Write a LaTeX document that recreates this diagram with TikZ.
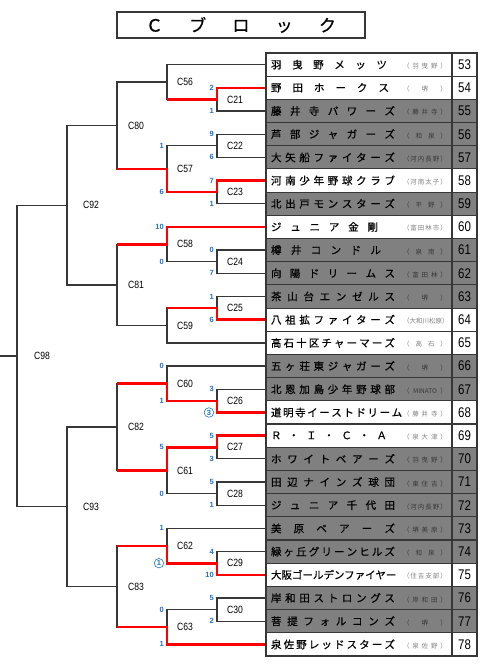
\documentclass[tikz,border=0pt]{standalone}
\usepackage{fontspec}
\setmainfont{Liberation Sans}
\newfontfamily\jpfont{Noto Sans CJK JP}[FakeBold=0.6]
\newfontfamily\ctfont{Noto Sans CJK JP}
\newfontfamily\numfont{Liberation Sans}[FakeStretch=0.82]
\usetikzlibrary{positioning}
\definecolor{cellgray}{RGB}{128,128,128}
\definecolor{linegray}{RGB}{55,55,55}
\definecolor{scoreblue}{RGB}{30,115,200}
\definecolor{winred}{RGB}{255,0,0}
\colorlet{citytext}{black!50}
\newcommand\teamrow[3][124pt]{\makebox[176pt]{\makebox[#1][s]{\jpfont\fontsize{10.5}{12}\selectfont #2}\hfill\makebox[44pt][s]{\ctfont\fontsize{6.5}{7}\selectfont\color{citytext}#3}}}

\begin{document}
\begin{tikzpicture}[x=1pt, y=-1pt,
    bline/.style={linegray, line width=1.3pt},
    win/.style={winred, line width=2.6pt},
    cell/.style={draw=linegray, line width=1.1pt, minimum width=186pt, minimum height=23.19pt, inner sep=0pt},
    wcell/.style={cell, fill=white, execute at begin node={\colorlet{citytext}{black!50}}},
    gcell/.style={cell, fill=cellgray, execute at begin node={\colorlet{citytext}{black!78}}},
    ncell/.style={draw=linegray, line width=1.1pt, minimum width=25pt, minimum height=23.19pt, inner sep=0pt, font=\numfont\fontsize{14}{14}\selectfont},
    mlabel/.style={font=\numfont\fontsize{10.5}{11}\selectfont, inner sep=0pt},
    score/.style={anchor=east, xshift=-3pt, text=scoreblue, font=\bfseries\fontsize{7.5}{8}\selectfont, inner sep=0pt},
    lot/.style={score, circle, draw=scoreblue, line width=0.6pt, inner sep=1pt}
]
\useasboundingbox (0,0) rectangle (489,670);

% ============ TITLE ============
\node[draw=linegray, line width=1.2pt, minimum width=248pt, minimum height=26pt, inner sep=0pt] (title) at (241, 25)
  {\makebox[190pt][s]{\jpfont\fontsize{17}{18}\selectfont Ｃ ブ ロ ッ ク}};

% ============ TEAM TABLE ============
\node[wcell] (t53) at (359, 64.6)  {\teamrow[116pt]{羽 曳 野 メ ッ ツ}{（ 羽 曳 野 ）}};
\node[wcell] (t54) at (359, 87.8)  {\teamrow[118pt]{野 田 ホ ー ク ス}{（ 堺 ）}};
\node[gcell] (t55) at (359, 111.0) {\teamrow{藤 井 寺 パ ワ ー ズ}{（ 藤 井 寺 ）}};
\node[gcell] (t56) at (359, 134.2) {\teamrow{芦 部 ジ ャ ガ ー ズ}{（ 和 泉 ）}};
\node[gcell] (t57) at (359, 157.4) {\teamrow{大 矢 船 フ ァ イ タ ー ズ}{（ 河 内 長 野 ）}};
\node[wcell] (t58) at (359, 180.5) {\teamrow{河 南 少 年 野 球 ク ラ ブ}{（ 河 南 太 子 ）}};
\node[gcell] (t59) at (359, 203.7) {\teamrow{北 出 戸 モ ン ス タ ー ズ}{（ 平 野 ）}};
\node[wcell] (t60) at (359, 226.9) {\teamrow[107pt]{ジ ュ ニ ア 金 剛}{（ 富 田 林 市 ）}};
\node[gcell] (t61) at (359, 250.1) {\teamrow[110pt]{樽 井 コ ン ド ル}{（ 泉 南 ）}};
\node[gcell] (t62) at (359, 273.3) {\teamrow{向 陽 ド リ ー ム ス}{（ 富 田 林 ）}};
\node[gcell] (t63) at (359, 296.5) {\teamrow{茶 山 台 エ ン ゼ ル ス}{（ 堺 ）}};
\node[wcell] (t64) at (359, 319.7) {\teamrow{八 祖 拡 フ ァ イ タ ー ズ}{（大和川松原）}};
\node[wcell] (t65) at (359, 342.9) {\teamrow{高 石 十 区 チ ャ ー マ ー ズ}{（ 高 石 ）}};
\node[gcell] (t66) at (359, 366.1) {\teamrow{五 ヶ 荘 東 ジ ャ ガ ー ズ}{（ 堺 ）}};
\node[gcell] (t67) at (359, 389.3) {\teamrow{北 恩 加 島 少 年 野 球 部}{（ MINATO ）}};
\node[wcell] (t68) at (359, 412.5) {\teamrow{道 明 寺 イ ー ス ト ド リ ー ム}{（ 藤 井 寺 ）}};
\node[wcell] (t69) at (359, 435.6) {\teamrow[116pt]{Ｒ ・ Ｉ ・ Ｃ ・ Ａ}{（ 泉 大 津 ）}};
\node[gcell] (t70) at (359, 458.8) {\teamrow{ホ ワ イ ト ベ ア ー ズ}{（ 羽 曳 野 ）}};
\node[gcell] (t71) at (359, 482.0) {\teamrow{田 辺 ナ イ ン ズ 球 団}{（ 東 住 吉 ）}};
\node[gcell] (t72) at (359, 505.2) {\teamrow{ジ ュ ニ ア 千 代 田}{（ 河 内 長 野 ）}};
\node[gcell] (t73) at (359, 528.4) {\teamrow{美 原 ベ ア ー ズ}{（ 堺 美 原 ）}};
\node[gcell] (t74) at (359, 551.6) {\teamrow{緑 ヶ 丘 グ リ ー ン ヒ ル ズ}{（ 和 泉 ）}};
\node[wcell] (t75) at (359, 574.8) {\teamrow[126pt]{大阪ゴールデンファイヤー}{（ 住 吉 支 部 ）}};
\node[gcell] (t76) at (359, 598.0) {\teamrow{岸 和 田 ス ト ロ ン グ ス}{（ 岸 和 田 ）}};
\node[gcell] (t77) at (359, 621.2) {\teamrow{菩 提 フ ォ ル コ ン ズ}{（ 堺 ）}};
\node[wcell] (t78) at (359, 644.4) {\teamrow{泉 佐 野 レ ッ ド ス タ ー ズ}{（ 泉 佐 野 ）}};

% Number column
\node[ncell, fill=white]    (n53) at (464.5, 64.6)  {53};
\node[ncell, fill=white]    (n54) at (464.5, 87.8)  {54};
\node[ncell, fill=cellgray] (n55) at (464.5, 111.0) {55};
\node[ncell, fill=cellgray] (n56) at (464.5, 134.2) {56};
\node[ncell, fill=cellgray] (n57) at (464.5, 157.4) {57};
\node[ncell, fill=white]    (n58) at (464.5, 180.5) {58};
\node[ncell, fill=cellgray] (n59) at (464.5, 203.7) {59};
\node[ncell, fill=white]    (n60) at (464.5, 226.9) {60};
\node[ncell, fill=cellgray] (n61) at (464.5, 250.1) {61};
\node[ncell, fill=cellgray] (n62) at (464.5, 273.3) {62};
\node[ncell, fill=cellgray] (n63) at (464.5, 296.5) {63};
\node[ncell, fill=white]    (n64) at (464.5, 319.7) {64};
\node[ncell, fill=white]    (n65) at (464.5, 342.9) {65};
\node[ncell, fill=cellgray] (n66) at (464.5, 366.1) {66};
\node[ncell, fill=cellgray] (n67) at (464.5, 389.3) {67};
\node[ncell, fill=white]    (n68) at (464.5, 412.5) {68};
\node[ncell, fill=white]    (n69) at (464.5, 435.6) {69};
\node[ncell, fill=cellgray] (n70) at (464.5, 458.8) {70};
\node[ncell, fill=cellgray] (n71) at (464.5, 482.0) {71};
\node[ncell, fill=cellgray] (n72) at (464.5, 505.2) {72};
\node[ncell, fill=cellgray] (n73) at (464.5, 528.4) {73};
\node[ncell, fill=cellgray] (n74) at (464.5, 551.6) {74};
\node[ncell, fill=white]    (n75) at (464.5, 574.8) {75};
\node[ncell, fill=cellgray] (n76) at (464.5, 598.0) {76};
\node[ncell, fill=cellgray] (n77) at (464.5, 621.2) {77};
\node[ncell, fill=white]    (n78) at (464.5, 644.4) {78};

% ============ MATCH POINTS ============
\coordinate (C21) at (217, 99.4);  \coordinate (C22) at (217, 145.8);
\coordinate (C23) at (217, 192.1); \coordinate (C24) at (217, 261.7);
\coordinate (C25) at (217, 308.1); \coordinate (C26) at (217, 400.9);
\coordinate (C27) at (217, 447.2); \coordinate (C28) at (217, 493.6);
\coordinate (C29) at (217, 563.2); \coordinate (C30) at (217, 609.6);
\coordinate (C56) at (167, 82.0);  \coordinate (C57) at (167, 169.0);
\coordinate (C58) at (167, 244.3); \coordinate (C59) at (167, 325.5);
\coordinate (C60) at (167, 383.5); \coordinate (C61) at (167, 470.4);
\coordinate (C62) at (167, 545.8); \coordinate (C63) at (167, 627.0);
\coordinate (C80) at (117, 125.5); \coordinate (C81) at (117, 284.9);
\coordinate (C82) at (117, 427.0); \coordinate (C83) at (117, 586.4);
\coordinate (C92) at (67, 205.2);  \coordinate (C93) at (67, 506.7);
\coordinate (C98) at (17, 356.0);
\coordinate (feed) at (0, 356.0);

% ============ BRACKET (upper half) ============
\draw[bline] (t53.west) -| (C56); \draw[bline] (C21) -| (C56);
\draw[bline] (t54.west) -| (C21); \draw[bline] (t55.west) -| (C21);
\draw[bline] (t56.west) -| (C22); \draw[bline] (t57.west) -| (C22);
\draw[bline] (t58.west) -| (C23); \draw[bline] (t59.west) -| (C23);
\draw[bline] (C22) -| (C57); \draw[bline] (C23) -| (C57);
\draw[bline] (C56) -| (C80); \draw[bline] (C57) -| (C80);
\draw[bline] (t60.west) -| (C58); \draw[bline] (C24) -| (C58);
\draw[bline] (t61.west) -| (C24); \draw[bline] (t62.west) -| (C24);
\draw[bline] (t63.west) -| (C25); \draw[bline] (t64.west) -| (C25);
\draw[bline] (C25) -| (C59); \draw[bline] (t65.west) -| (C59);
\draw[bline] (C58) -| (C81); \draw[bline] (C59) -| (C81);
\draw[bline] (C80) -| (C92); \draw[bline] (C81) -| (C92);

% ============ BRACKET (lower half) ============
\draw[bline] (t66.west) -| (C60); \draw[bline] (C26) -| (C60);
\draw[bline] (t67.west) -| (C26); \draw[bline] (t68.west) -| (C26);
\draw[bline] (t69.west) -| (C27); \draw[bline] (t70.west) -| (C27);
\draw[bline] (t71.west) -| (C28); \draw[bline] (t72.west) -| (C28);
\draw[bline] (C27) -| (C61); \draw[bline] (C28) -| (C61);
\draw[bline] (C60) -| (C82); \draw[bline] (C61) -| (C82);
\draw[bline] (t73.west) -| (C62); \draw[bline] (C29) -| (C62);
\draw[bline] (t74.west) -| (C29); \draw[bline] (t75.west) -| (C29);
\draw[bline] (t76.west) -| (C30); \draw[bline] (t77.west) -| (C30);
\draw[bline] (C30) -| (C63); \draw[bline] (t78.west) -| (C63);
\draw[bline] (C62) -| (C83); \draw[bline] (C63) -| (C83);
\draw[bline] (C82) -| (C93); \draw[bline] (C83) -| (C93);

% Final
\draw[bline] (C92) -| (C98); \draw[bline] (C93) -| (C98);
\draw[bline] (feed) -- (C98);

% ============ WINNERS ============
\draw[win] (t54.west) -| (C21) -- (C21 -| C56);
\draw[win] (t58.west) -| (C23) -| (C57) -- (C57 -| C80);
\draw[win] (t60.west) -| (C58) -- (C58 -| C81);
\draw[win] (t64.west) -| (C25) -- (C25 -| C59);
\draw[win] (t68.west) -| (C26) -| (C60) -- (C60 -| C82);
\draw[win] (t69.west) -| (C27) -| (C61) -- (C61 -| C82);
\draw[win] (t75.west) -| (C29) -| (C62) -- (C62 -| C83);
\draw[win] (t78.west) -| (C63) -- (C63 -| C83);

% ============ MATCH LABELS ============
\node[mlabel, right=10pt of C21] (lC21) {C21}; \node[mlabel, right=10pt of C22] (lC22) {C22};
\node[mlabel, right=10pt of C23] (lC23) {C23}; \node[mlabel, right=10pt of C24] (lC24) {C24};
\node[mlabel, right=10pt of C25] (lC25) {C25}; \node[mlabel, right=10pt of C26] (lC26) {C26};
\node[mlabel, right=10pt of C27] (lC27) {C27}; \node[mlabel, right=10pt of C28] (lC28) {C28};
\node[mlabel, right=10pt of C29] (lC29) {C29}; \node[mlabel, right=10pt of C30] (lC30) {C30};
\node[mlabel, right=10pt of C56] (lC56) {C56}; \node[mlabel, right=10pt of C57] (lC57) {C57};
\node[mlabel, right=10pt of C58] (lC58) {C58}; \node[mlabel, right=10pt of C59] (lC59) {C59};
\node[mlabel, right=10pt of C60] (lC60) {C60}; \node[mlabel, right=10pt of C61] (lC61) {C61};
\node[mlabel, right=10pt of C62] (lC62) {C62}; \node[mlabel, right=10pt of C63] (lC63) {C63};
\node[mlabel, right=11pt of C80] (lC80) {C80}; \node[mlabel, right=11pt of C81] (lC81) {C81};
\node[mlabel, right=11pt of C82] (lC82) {C82}; \node[mlabel, right=11pt of C83] (lC83) {C83};
\node[mlabel, right=16pt of C92] (lC92) {C92}; \node[mlabel, right=16pt of C93] (lC93) {C93};
\node[mlabel, right=17pt of C98] (lC98) {C98};

% ============ SCORES ============
\node[score] (s21a) at (t54.west -| C21) {2};  \node[score] (s21b) at (t55.west -| C21) {1};
\node[score] (s22a) at (t56.west -| C22) {9};  \node[score] (s22b) at (t57.west -| C22) {6};
\node[score] (s23a) at (t58.west -| C23) {7};  \node[score] (s23b) at (t59.west -| C23) {1};
\node[score] (s57a) at (C22 -| C57) {1};       \node[score] (s57b) at (C23 -| C57) {6};
\node[score] (s58a) at (t60.west -| C58) {10}; \node[score] (s58b) at (C24 -| C58) {0};
\node[score] (s24a) at (t61.west -| C24) {0};  \node[score] (s24b) at (t62.west -| C24) {7};
\node[score] (s25a) at (t63.west -| C25) {1};  \node[score] (s25b) at (t64.west -| C25) {6};
\node[score] (s60a) at (t66.west -| C60) {0};  \node[score] (s60b) at (C26 -| C60) {1};
\node[score] (s26a) at (t67.west -| C26) {3};  \node[lot]   (s26b) at (t68.west -| C26) {3};
\node[score] (s27a) at (t69.west -| C27) {5};  \node[score] (s27b) at (t70.west -| C27) {3};
\node[score] (s61a) at (C27 -| C61) {5};       \node[score] (s61b) at (C28 -| C61) {0};
\node[score] (s28a) at (t71.west -| C28) {5};  \node[score] (s28b) at (t72.west -| C28) {1};
\node[score] (s62a) at (t73.west -| C62) {1};  \node[lot]   (s62b) at (C29 -| C62) {1};
\node[score] (s29a) at (t74.west -| C29) {4};  \node[score] (s29b) at (t75.west -| C29) {10};
\node[score] (s30a) at (t76.west -| C30) {5};  \node[score] (s30b) at (t77.west -| C30) {2};
\node[score] (s63a) at (C30 -| C63) {0};       \node[score] (s63b) at (t78.west -| C63) {1};

\end{tikzpicture}
\end{document}
